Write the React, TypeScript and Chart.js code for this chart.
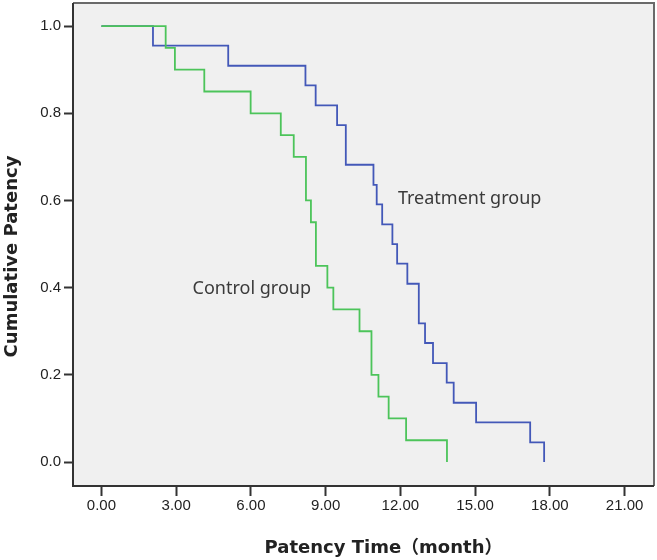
import React, { useEffect, useRef } from "react";
import { Chart, registerables } from "chart.js";

Chart.register(...registerables);

// Kaplan-Meier step data (time in months, cumulative patency)
const treatmentTime = [0, 2.07, 5.09, 8.19, 8.6, 9.46, 9.81, 10.92, 11.05, 11.27, 11.68, 11.87, 12.28, 12.74, 12.99, 13.31, 13.86, 14.14, 15.04, 17.21, 17.77];
const treatmentSurv = [1.0, 0.955, 0.909, 0.864, 0.818, 0.773, 0.682, 0.636, 0.591, 0.545, 0.5, 0.455, 0.409, 0.318, 0.273, 0.227, 0.182, 0.136, 0.091, 0.045, 0.0];

const controlTime = [0, 2.58, 2.95, 4.13, 5.99, 7.2, 7.72, 8.21, 8.41, 8.61, 9.07, 9.31, 10.36, 10.84, 11.12, 11.53, 12.23, 13.87];
const controlSurv = [1.0, 0.95, 0.9, 0.85, 0.8, 0.75, 0.7, 0.6, 0.55, 0.45, 0.4, 0.35, 0.3, 0.2, 0.15, 0.1, 0.05, 0.0];

const xTickValues = [0, 3, 6, 9, 12, 15, 18, 21];
const yTickValues = [0, 0.2, 0.4, 0.6, 0.8, 1.0];

const groupLabels = ["Treatment group", "Control group"];
const labelX = [11.9, 3.66];
const labelY = [0.591, 0.385];

const xTitle = "Patency Time（month）";
const yTitle = "Cumulative Patency";

const titleFont = "bold 18px 'DejaVu Sans', 'Noto Sans CJK SC'";

const framePlugin = {
  id: "frame",
  beforeDatasetsDraw(chart: any) {
    const { ctx, chartArea: a } = chart;
    ctx.save();
    ctx.fillStyle = "#f0f0f0";
    ctx.fillRect(a.left, a.top, a.right - a.left, a.bottom - a.top);
    ctx.restore();
  },
  afterDatasetsDraw(chart: any) {
    const { ctx, scales } = chart;
    ctx.save();
    ctx.font = "18px 'Noto Sans'";
    ctx.fillStyle = "#3a3a3a";
    ctx.textBaseline = "alphabetic";
    ctx.textAlign = "left";
    groupLabels.forEach((t, i) => {
      ctx.fillText(t, scales.x.getPixelForValue(labelX[i]), scales.y.getPixelForValue(labelY[i]));
    });
    ctx.restore();
  },
  afterDraw(chart: any) {
    const { ctx, chartArea: a } = chart;
    ctx.save();
    ctx.lineWidth = 2;
    ctx.strokeStyle = "#6a6a6a";
    ctx.beginPath();
    ctx.moveTo(a.left, a.top);
    ctx.lineTo(a.right, a.top);
    ctx.lineTo(a.right, a.bottom);
    ctx.stroke();
    ctx.strokeStyle = "#333333";
    ctx.beginPath();
    ctx.moveTo(a.left, a.top);
    ctx.lineTo(a.left, a.bottom);
    ctx.lineTo(a.right, a.bottom);
    ctx.stroke();

    // axis titles
    ctx.fillStyle = "#222222";
    ctx.font = titleFont;
    ctx.textBaseline = "alphabetic";
    ctx.textAlign = "center";
    ctx.fillText(xTitle, (a.left + a.right) / 2 + 20, a.bottom + 67);
    ctx.translate(a.left - 56, (a.top + a.bottom) / 2 + 12);
    ctx.rotate(-Math.PI / 2);
    ctx.fillText(yTitle, 0, 0);
    ctx.restore();
  },
};

export default function App() {
  const ref = useRef<HTMLCanvasElement>(null);

  useEffect(() => {
    if (!ref.current) return;
    const chart = new Chart(ref.current, {
      type: "line",
      data: {
        datasets: [
          {
            label: "Control group",
            data: controlTime.map((t, i) => ({ x: t, y: controlSurv[i] })),
            borderColor: "#4cc45a",
            borderWidth: 1.8,
            stepped: true,
            pointRadius: 0,
            fill: false,
            order: 0,
          },
          {
            label: "Treatment group",
            data: treatmentTime.map((t, i) => ({ x: t, y: treatmentSurv[i] })),
            borderColor: "#4358b8",
            borderWidth: 1.8,
            stepped: true,
            pointRadius: 0,
            fill: false,
            order: 1,
          },
        ],
      },
      options: {
        responsive: false,
        animation: false,
        layout: { padding: { left: 0, right: 3, top: 3, bottom: 0 } },
        plugins: { legend: { display: false }, tooltip: { enabled: false } },
        scales: {
          x: {
            type: "linear",
            min: -1.14,
            max: 22.18,
            afterBuildTicks: (s: any) => {
              s.ticks = xTickValues.map((v) => ({ value: v }));
            },
            afterFit: (s: any) => {
              s.height = 74;
              s.paddingLeft = 0;
              s.paddingRight = 0;
            },
            grid: {
              drawOnChartArea: false,
              drawTicks: true,
              tickLength: 10,
              tickWidth: 2,
              tickColor: "#333333",
            },
            border: { display: false },
            ticks: {
              padding: 1,
              maxRotation: 0,
              autoSkip: false,
              color: "#222222",
              font: { family: "'Liberation Sans', Arial", size: 15 },
              callback: (v: any) => Number(v).toFixed(2),
            },
            title: { display: false },
          },
          y: {
            type: "linear",
            min: -0.055,
            max: 1.053,
            afterBuildTicks: (s: any) => {
              s.ticks = yTickValues.map((v) => ({ value: v }));
            },
            afterFit: (s: any) => {
              s.width = 73;
              s.paddingTop = 0;
              s.paddingBottom = 0;
            },
            grid: {
              drawOnChartArea: false,
              drawTicks: true,
              tickLength: 9,
              tickWidth: 2,
              tickColor: "#333333",
            },
            border: { display: false },
            ticks: {
              padding: 3,
              autoSkip: false,
              color: "#222222",
              font: { family: "'Liberation Sans', Arial", size: 15 },
              callback: (v: any) => Number(v).toFixed(1),
            },
            title: { display: false },
          },
        },
      },
      plugins: [framePlugin],
    });
    return () => chart.destroy();
  }, []);

  return (
    <div style={{ position: "fixed", left: 0, top: 0, width: 657, height: 560, background: "#fff" }}>
      <canvas ref={ref} width={657} height={560} style={{ display: "block" }} />
    </div>
  );
}
